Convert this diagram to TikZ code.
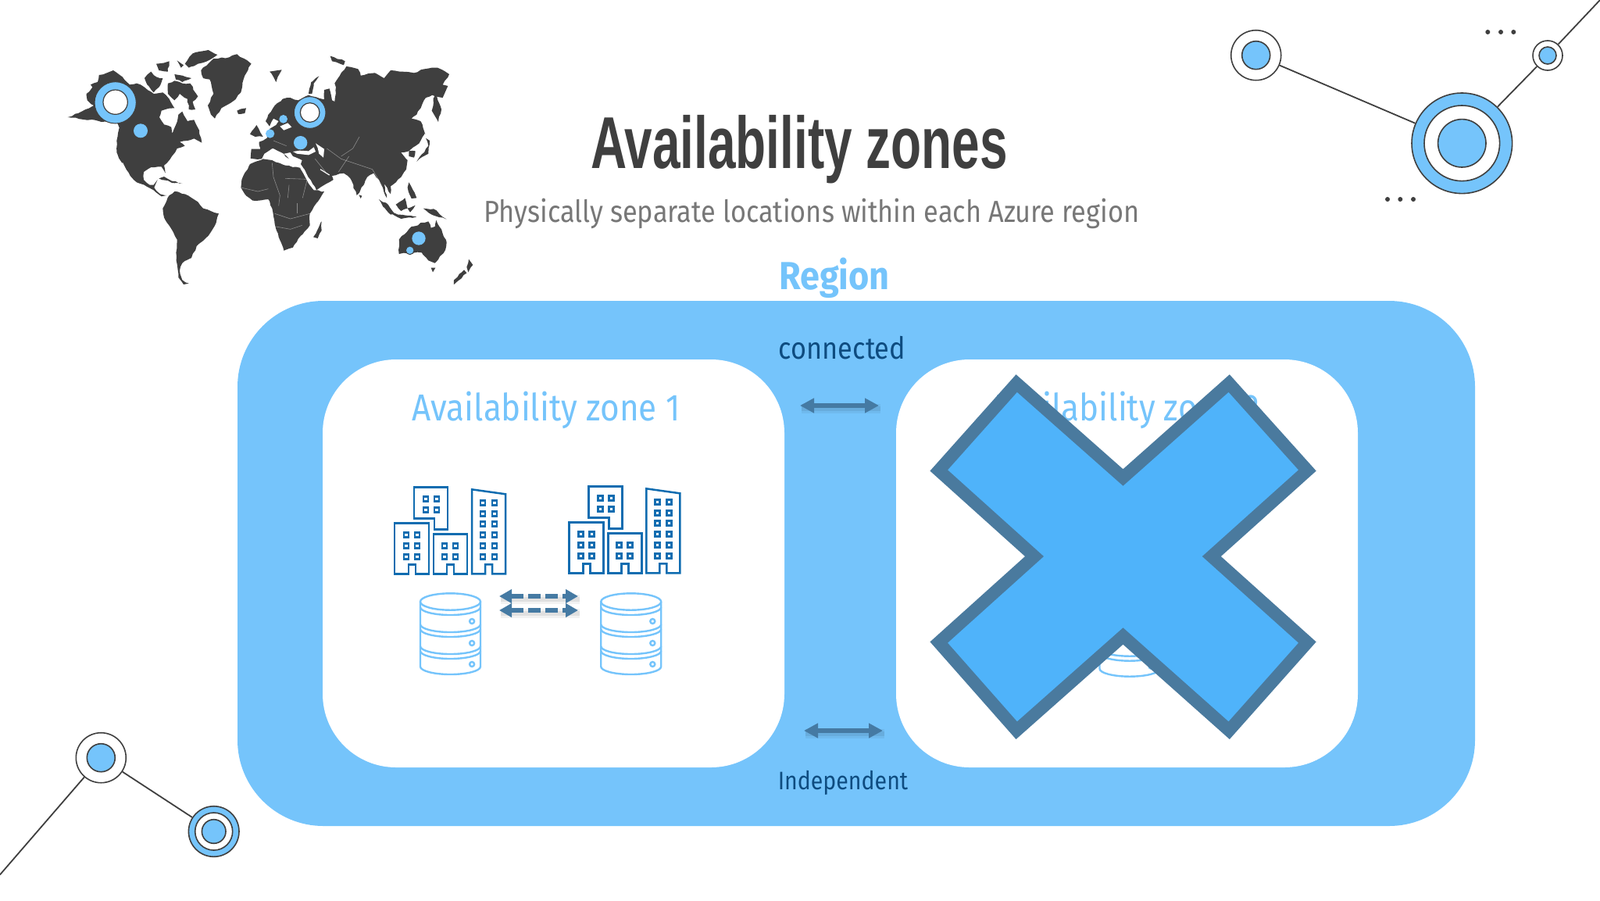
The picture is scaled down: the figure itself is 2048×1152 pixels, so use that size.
\documentclass[tikz,border=0pt]{standalone}
\usepackage{fontspec}
\setmainfont{Fira Sans}
\newfontfamily\titlefont[FakeStretch=0.68]{Liberation Sans Bold}
\newfontfamily\slimfont[FakeStretch=0.88]{Fira Sans}
\newfontfamily\regionfont[FakeStretch=0.9]{Fira Sans Bold}
\usetikzlibrary{shapes,arrows.meta,positioning,decorations.pathmorphing}
\definecolor{skyblue}{HTML}{75C4FB}
\definecolor{crossblue}{HTML}{4FB3FA}
\definecolor{crossedge}{HTML}{4A7A9E}
\definecolor{linkblue}{HTML}{457AA3}
\definecolor{cityblue}{HTML}{0F6CB0}
\definecolor{inkgray}{HTML}{3F3F3F}
\definecolor{subgray}{HTML}{777777}
\definecolor{labelblue}{HTML}{0E4C80}
\tikzset{
  regionbox/.style={fill=skyblue,rounded corners=55pt,minimum width=792pt,minimum height=336pt,inner sep=0pt},
  zonebox/.style={fill=white,rounded corners=47pt,minimum width=295.5pt,minimum height=261pt,inner sep=0pt},
  ring/.style={circle,draw=inkgray,line width=.8pt,inner sep=0pt,fill=white,minimum size=#1},
  core/.style={circle,draw=inkgray,line width=.8pt,inner sep=0pt,fill=skyblue,minimum size=#1},
  linkline/.style={draw=inkgray,line width=.9pt},
  dotmark/.style={circle,fill=inkgray,inner sep=0pt,minimum size=3pt},
  zonelabel/.style={text=skyblue,font=\slimfont\fontsize{24}{26}\selectfont},
  smalllabel/.style={text=labelblue,font=\slimfont\fontsize{19.5}{22}\selectfont},
  twoway/.style={draw=linkblue,line width=2.75pt,{Triangle[length=9pt,width=9pt]}-{Triangle[length=9pt,width=9pt]}},
  twowayshade/.style={draw=black,opacity=.07,line width=3pt,preaction={draw=black,opacity=.05,line width=6pt}},
  syncline/.style={draw=linkblue,line width=3pt,dash pattern=on 8pt off 3pt,{Triangle[length=8pt,width=8.5pt]}-{Triangle[length=8pt,width=8.5pt]}},
  cityline/.style={draw=cityblue,line width=1.25pt},
  winline/.style={draw=cityblue,line width=1.4pt},
  dbline/.style={draw=skyblue,line width=1.2pt},
  land/.style={fill=inkgray,line join=round,decorate,decoration={random steps,segment length=2.5pt,amplitude=.4pt}},
  sea/.style={fill=white},
  border/.style={draw=white,opacity=.4,line width=.3pt},
  pin/.style={fill=skyblue,draw=inkgray,line width=.5pt},
  buildings/.pic={
    \draw[cityline] (0,0) -- (0,-65) -- (44,-65) -- (44,0) -- (27,0) -- (27,-12) -- (18,-12) -- (18,0) -- cycle;
    \draw[cityline] (50,0) -- (50,-51) -- (93,-51) -- (93,0) -- (76,0) -- (76,-12) -- (67,-12) -- (67,0) -- cycle;
    \draw[cityline] (99,0) -- (99,-108) -- (142,-102) -- (142,0) -- (125,0) -- (125,-12) -- (116,-12) -- (116,0) -- cycle;
    \draw[cityline] (25,-111) -- (68,-111) -- (68,-57) -- (51,-57) -- (51,-71) -- (25,-71) -- cycle;
    \foreach \wx in {15,29} \foreach \wy in {-50,-36,-22}
      \draw[winline] (\wx-3,\wy-3) rectangle (\wx+3,\wy+3);
    \foreach \wx in {64,78} \foreach \wy in {-36,-22}
      \draw[winline] (\wx-3,\wy-3) rectangle (\wx+3,\wy+3);
    \foreach \wx in {113,128} \foreach \wy in {-91,-77,-64,-50,-36,-22}
      \draw[winline] (\wx-3,\wy-3) rectangle (\wx+3,\wy+3);
    \foreach \wx in {40,54} \foreach \wy in {-96,-82}
      \draw[winline] (\wx-3,\wy-3) rectangle (\wx+3,\wy+3);
  },
  database/.pic={
    \draw[dbline] (0,0) ellipse[x radius=38.5,y radius=10.7];
    \draw[dbline] (-38.5,0) -- (-38.5,83) arc[start angle=180,end angle=0,x radius=38.5,y radius=10] -- (38.5,0);
    \foreach \lvl in {7,29,35,57,63}
      \draw[dbline] (-38.5,\lvl) arc[start angle=180,end angle=0,x radius=38.5,y radius=10];
    \foreach \lvl in {25,53,80}
      \draw[dbline] (27.6,\lvl) circle[radius=3];
  }
}
\begin{document}
\begin{tikzpicture}[x=.5pt,y=-.5pt]
\useasboundingbox (0,0) rectangle (2048,1152);
% americas
\begin{scope}[shift={(60,40)},x=.16667pt,y=-.16667pt]
\fill[land] (80,330) -- (120,315) -- (180,285) -- (155,265) -- (152,240) -- (175,215) -- (168,205) -- (195,195) -- (200,168) -- (235,158) -- (255,150) -- (290,175) -- (318,205) -- (345,200) -- (375,215) -- (410,240) -- (445,235) -- (470,260) -- (490,295) -- (470,296) -- (440,305) -- (432,330) -- (450,358) -- (478,368) -- (482,392) -- (495,360) -- (505,320) -- (520,308) -- (540,345) -- (565,340) -- (585,380) -- (595,428) -- (565,412) -- (540,420) -- (510,425) -- (530,440) -- (500,450) -- (480,480) -- (450,515) -- (455,545) -- (440,520) -- (400,522) -- (372,540) -- (372,570) -- (395,590) -- (410,590) -- (425,570) -- (412,600) -- (435,625) -- (460,630) -- (440,634) -- (410,610) -- (385,597) -- (345,580) -- (320,555) -- (285,500) -- (268,465) -- (268,420) -- (278,370) -- (270,350) -- (200,345) -- cycle;
\fill[land] (375,180) -- (400,155) -- (420,175) -- (445,180) -- (430,215) -- (410,235) -- (385,205) -- cycle;
\fill[land] (420,125) -- (470,115) -- (465,155) -- (430,150) -- cycle;
\fill[land] (490,165) -- (520,170) -- (555,180) -- (520,195) -- (495,185) -- cycle;
\fill[land] (465,200) -- (490,190) -- (520,200) -- (550,200) -- (580,250) -- (560,270) -- (570,300) -- (545,300) -- (540,260) -- (510,240) -- (490,265) -- (465,240) -- cycle;
\fill[land] (500,112) -- (525,130) -- (515,140) -- cycle;
\fill[land] (530,125) -- (560,85) -- (620,72) -- (655,90) -- (625,110) -- (580,125) -- (545,140) -- cycle;
\fill[land] (592,150) -- (640,105) -- (700,100) -- (730,88) -- (785,125) -- (760,170) -- (745,235) -- (720,265) -- (670,295) -- (645,335) -- (630,320) -- (618,285) -- (640,240) -- (625,185) -- (600,180) -- cycle;
\fill[land] (730,305) -- (765,295) -- (760,315) -- (735,318) -- cycle;
\fill[land] (430,565) -- (450,558) -- (480,575) -- (520,585) -- (480,582) -- (455,572) -- cycle;
\fill[land] (445,680) -- (470,630) -- (490,615) -- (530,625) -- (580,655) -- (600,680) -- (660,700) -- (650,735) -- (620,785) -- (575,825) -- (555,870) -- (520,890) -- (510,920) -- (520,955) -- (545,968) -- (525,972) -- (505,945) -- (497,880) -- (500,800) -- (450,715) -- cycle;
\draw[white,line width=.5pt] (290,505) -- (315,555);
\draw[pin] (263,274) circle[radius=80];
\draw[fill=white,draw=inkgray,line width=.6pt] (263,272) circle[radius=47];
\fill[skyblue] (360,382) circle[radius=27];
\end{scope}
% old world
\begin{scope}[shift={(300,40)},x=.16667pt,y=-.16667pt]
\fill[land] (62,488) -- (65,452) -- (100,452) -- (95,425) -- (125,410) -- (135,375) -- (160,360) -- (170,345) -- (150,335) -- (135,365) -- (120,345) -- (130,320) -- (155,285) -- (185,260) -- (215,255) -- (245,265) -- (285,245) -- (345,262) -- (345,225) -- (365,220) -- (375,265) -- (385,270) -- (390,215) -- (385,200) -- (405,170) -- (430,135) -- (475,145) -- (485,170) -- (540,160) -- (575,180) -- (600,150) -- (640,155) -- (690,160) -- (730,145) -- (780,140) -- (825,165) -- (800,205) -- (820,210) -- (800,255) -- (760,245) -- (735,255) -- (700,320) -- (680,335) -- (715,345) -- (730,395) -- (710,430) -- (670,460) -- (640,465) -- (665,495) -- (660,530) -- (640,560) -- (600,595) -- (600,625) -- (575,585) -- (585,640) -- (570,600) -- (555,570) -- (535,545) -- (510,560) -- (480,620) -- (470,630) -- (445,565) -- (420,545) -- (375,555) -- (380,570) -- (345,590) -- (315,610) -- (265,525) -- (255,510) -- (260,495) -- (225,480) -- (215,465) -- (190,470) -- (210,490) -- (180,465) -- (145,450) -- (115,470) -- (105,490) -- (75,490) -- cycle;
\fill[land] (770,235) -- (795,300) -- (783,348) -- (758,305) -- cycle;
\fill[land] (715,345) -- (733,395) -- (722,385) -- cycle;
\fill[land] (700,500) -- (745,440) -- (735,410) -- (750,420) -- (745,470) -- (710,490) -- cycle;
\fill[land] (670,460) -- (695,460) -- (690,485) -- (670,480) -- cycle;
\fill[land] (478,628) -- (490,632) -- (485,642) -- cycle;
\fill[land] (325,172) -- (295,195) -- (285,240) -- (298,240) -- (305,200) -- cycle;
\fill[land] (135,155) -- (182,148) -- (160,195) -- (150,175) -- cycle;
\fill[land] (368,95) -- (425,115) -- (420,130) -- (375,115) -- cycle;
\fill[land] (60,395) -- (85,360) -- (110,405) -- (80,405) -- cycle;
\fill[land] (555,645) -- (590,665) -- (615,700) -- (600,704) -- (570,672) -- cycle;
\fill[land] (600,698) -- (700,712) -- (640,720) -- cycle;
\fill[land] (620,665) -- (655,640) -- (665,680) -- (640,690) -- cycle;
\fill[land] (665,680) -- (695,668) -- (675,695) -- cycle;
\fill[land] (670,580) -- (700,640) -- (680,642) -- (665,600) -- cycle;
\fill[land] (725,680) -- (765,682) -- (815,722) -- (760,705) -- cycle;
\fill[land] (25,600) -- (28,570) -- (60,510) -- (110,490) -- (145,495) -- (195,515) -- (255,525) -- (285,585) -- (305,610) -- (345,615) -- (315,660) -- (290,700) -- (290,745) -- (255,785) -- (225,830) -- (190,842) -- (170,790) -- (155,740) -- (145,680) -- (130,645) -- (70,650) -- (40,625) -- cycle;
\fill[land] (303,790) -- (335,730) -- (335,765) -- (320,795) -- cycle;
\fill[land] (632,800) -- (680,750) -- (705,745) -- (715,735) -- (745,730) -- (755,755) -- (770,750) -- (775,725) -- (795,760) -- (815,810) -- (810,840) -- (770,890) -- (745,880) -- (720,850) -- (680,850) -- (632,855) -- cycle;
\fill[land] (755,908) -- (772,908) -- (762,925) -- cycle;
\fill[land] (843,955) -- (882,916) -- (892,928) -- (852,964) -- cycle;
\fill[land] (892,905) -- (900,875) -- (916,897) -- (898,925) -- cycle;
\fill[sea] (225,462) -- (250,458) -- (285,460) -- (305,445) -- (312,462) -- (285,475) -- (240,470) -- cycle;
\fill[sea] (312,430) -- (345,452) -- (342,485) -- (325,470) -- (320,448) -- cycle;
\fill[sea] (175,365) -- (205,352) -- (220,368) -- (190,380) -- cycle;
\draw[white,line width=.8pt] (255,525) -- (305,605);
\draw[white,line width=.6pt] (330,530) -- (365,552);
\draw[border] (25,600) -- (90,615) -- (130,605);
\draw[border] (145,505) -- (150,560) -- (175,630) -- (170,670);
\draw[border] (210,590) -- (205,640);
\draw[border] (195,565) -- (280,568) -- (262,640);
\draw[border] (155,700) -- (215,720) -- (290,700);
\draw[border] (160,750) -- (215,760) -- (260,745);
\draw[border] (240,660) -- (240,700);
\draw[border] (355,450) -- (410,490) -- (470,510) -- (530,530) -- (565,590);
\draw[border] (440,480) -- (400,540);
\draw[border] (480,405) -- (455,450) -- (410,480);
\draw[border] (310,490) -- (350,540);
\draw[border] (150,420) -- (200,440);
\draw[pin] (290,312) circle[radius=61];
\draw[fill=white,draw=inkgray,line width=.6pt] (290,312) circle[radius=37];
\fill[skyblue] (188,337) circle[radius=16];
\fill[skyblue] (137,393) circle[radius=17];
\fill[skyblue] (254,428) circle[radius=26];
\fill[skyblue] (708,795) circle[radius=26];
\draw[pin] (674,841) circle[radius=16];
\end{scope}
% title
\node[text=inkgray,font=\titlefont\fontsize{47}{52}\selectfont] (title) at (1023,191) {Availability zones};
\node[text=subgray,font=\slimfont\fontsize{19.5}{22}\selectfont] (subtitle) at (1039,273) {Physically separate locations within each Azure region};
\node[text=skyblue,font=\regionfont\fontsize{25}{26}\selectfont] (regionlabel) at (1068,356) {Region};
% region and zones
\node[regionbox] (region) at (1096,721) {};
\node[zonebox] (zoneA) at (708.5,721) {};
\node[zonebox] (zoneB) at (1442.5,721) {};
\node[zonelabel] (zoneAlabel) at (699,525) {Availability zone 1};
\node[zonelabel] (zoneBlabel) at (1440,525) {Availability zone 2};
\node[smalllabel] (connected) at (1078,445) {connected};
\node[smalllabel,font=\slimfont\fontsize{16.2}{20}\selectfont] (independent) at (1079,1002) {Independent};
% arrows between the zones
\coordinate (upL) at (1024,519);
\coordinate (upR) at (1125,519);
\coordinate (lowL) at (1029,935);
\coordinate (lowR) at (1130,935);
\draw[twowayshade] ([xshift=1pt,yshift=-2pt]upL) -- ([xshift=1pt,yshift=-2pt]upR);
\draw[twowayshade] ([xshift=1pt,yshift=-2pt]lowL) -- ([xshift=1pt,yshift=-2pt]lowR);
\draw[twoway] (upL) -- (upR);
\draw[twoway] (lowL) -- (lowR);
% zone contents
\pic at (505,734.3) {buildings};
\pic at (728.3,733.3) {buildings};
\pic at (576.5,770) {database};
\pic at (807.7,770) {database};
\pic at (1446,772.7) {database};
\coordinate (syncAL) at (639,763);
\coordinate (syncAR) at (740,763);
\coordinate (syncBL) at (639,781);
\coordinate (syncBR) at (740,781);
\draw[twowayshade] ([xshift=1pt,yshift=-2pt]syncAL) -- ([xshift=1pt,yshift=-2pt]syncAR);
\draw[twowayshade] ([xshift=1pt,yshift=-2pt]syncBL) -- ([xshift=1pt,yshift=-2pt]syncBR);
\draw[syncline] (syncAL) -- (syncAR);
\draw[syncline] (syncBL) -- (syncBR);
% cross over zone 2
\draw[fill=crossblue,draw=crossedge,line width=8pt,line join=miter] (1301.2,490.5) -- (1437.5,611) -- (1573.2,490.5) -- (1673.4,602) -- (1550.8,712) -- (1673.4,822) -- (1573.2,934.7) -- (1437.5,814) -- (1301.2,934.7) -- (1201.7,822) -- (1324,712) -- (1201.7,602) -- cycle;
% top right nodes
\node[ring=32pt] (hubA) at (1607.7,70.7) {};
\node[core=18pt] (hubAcore) at (hubA) {};
\node[core=64.3pt] (hubB) at (1871.3,183.3) {};
\node[ring=48.3pt] (hubBring) at (hubB) {};
\node[core=30.7pt] (hubBcore) at (hubB) {};
\node[ring=19pt] (hubC) at (1981,71) {};
\node[core=11pt] (hubCcore) at (hubC) {};
\coordinate (cornerTR) at (2048,0);
\draw[linkline] (hubA) -- (hubB);
\draw[linkline] (hubB) -- (hubC);
\draw[linkline] (hubC) -- (cornerTR);
\foreach \n/\px in {a/1904.3,b/1921,c/1937.3}
  \node[dotmark] (dotT\n) at (\px,41) {};
\foreach \n/\px in {a/1776,b/1792.3,c/1809}
  \node[dotmark] (dotB\n) at (\px,255) {};
% bottom left nodes
\node[ring=32pt] (hubD) at (129.3,969.7) {};
\node[core=18pt] (hubDcore) at (hubD) {};
\node[core=32.3pt] (hubE) at (273.7,1064) {};
\node[ring=24pt] (hubEring) at (hubE) {};
\node[core=15.3pt] (hubEcore) at (hubE) {};
\coordinate (cornerBL) at (0,1119.3);
\draw[linkline] (hubD) -- (hubE);
\draw[linkline] (hubD) -- (cornerBL);
\end{tikzpicture}
\end{document}
